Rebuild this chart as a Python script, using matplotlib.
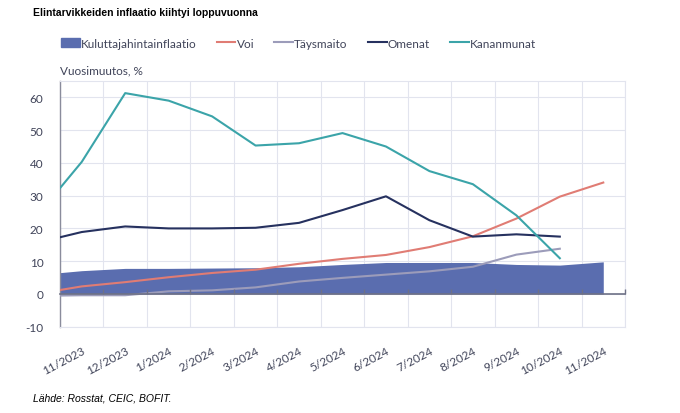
import numpy as np
import matplotlib
matplotlib.use('Agg')
import matplotlib.pyplot as plt
from matplotlib.patches import Patch
from matplotlib.lines import Line2D

plt.rcParams['axes.unicode_minus'] = False

# kuukaudet (x-akselin nimiöt)
months = ['11/2023', '12/2023', '1/2024', '2/2024', '3/2024', '4/2024', '5/2024',
          '6/2024', '7/2024', '8/2024', '9/2024', '10/2024', '11/2024']
# ensimmäinen havainto (10/2023) on puoli kuukautta ennen 11/2023-nimiötä
first_offset = -0.5

cpi = [6.5, 7.1, 7.8, 7.8, 7.9, 8.0, 8.3, 9.0, 9.6, 9.6, 9.6, 9.0, 8.8, 9.8]
voi = [1.2, 2.3, 3.6, 5.1, 6.4, 7.4, 9.2, 10.7, 11.9, 14.3, 17.6, 23.0, 29.7, 34.0]
taysmaito = [-0.5, -0.4, -0.4, 0.8, 1.1, 2.0, 3.8, 4.9, 5.9, 6.9, 8.3, 12.0, 13.8]
omenat = [17.3, 18.9, 20.6, 20.0, 20.0, 20.2, 21.7, 25.6, 29.8, 22.5, 17.5, 18.2, 17.5]
kananmunat = [32.3, 40.3, 61.3, 59.0, 54.2, 45.3, 46.0, 49.1, 45.0, 37.5, 33.5, 24.0, 10.9]

c_cpi = '#5A6DAF'
c_voi = '#E07C74'
c_maito = '#9C9CBA'
c_omenat = '#26315F'
c_kana = '#3BA4A9'
txt = '#404459'
grid_c = '#E2E4EE'
fs = 8.5

def xs(vals):
    return np.concatenate([[first_offset], np.arange(len(vals) - 1)])

fig = plt.figure(figsize=(6.8, 4.14), dpi=100)
ax = fig.add_axes([60/680, 1 - 327.7/414, 565/680, (327.7 - 82)/414])

ax.fill_between(xs(cpi), 0, cpi, color=c_cpi, lw=0, zorder=2)
ax.plot(xs(voi), voi, color=c_voi, lw=1.5, zorder=3)
ax.plot(xs(taysmaito), taysmaito, color=c_maito, lw=1.5, zorder=3)
ax.plot(xs(omenat), omenat, color=c_omenat, lw=1.5, zorder=3)
ax.plot(xs(kananmunat), kananmunat, color=c_kana, lw=1.5, zorder=3)

ax.set_xlim(-0.5, len(months) - 0.5)
ax.set_ylim(-10, 65)
ax.set_yticks(range(-10, 61, 10))
ax.set_xticks(np.arange(len(months)))
ax.set_xticklabels(months, rotation=28, ha='right', rotation_mode='anchor',
                   family='Lato', fontsize=fs, color=txt)
ax.set_xticks(np.arange(-0.5, len(months)), minor=True)
ax.tick_params(axis='x', which='both', length=0, pad=13)
ax.tick_params(axis='y', length=0, pad=12, labelsize=fs, labelcolor=txt)
for lab in ax.get_yticklabels():
    lab.set_family('Lato')
ax.grid(axis='x', which='minor', color=grid_c, lw=0.8)
ax.grid(axis='y', which='major', color=grid_c, lw=0.8)
ax.set_axisbelow(True)
for s in ['top', 'right', 'bottom']:
    ax.spines[s].set_color(grid_c)
    ax.spines[s].set_linewidth(0.8)
ax.spines['left'].set_color('#8A8C9C')
ax.spines['left'].set_linewidth(1.0)

# nolla-akseli väkäsineen
zero = ax.secondary_xaxis(0, transform=ax.transData)
zero.set_xticks(np.arange(0.5, len(months) + 0.5))
zero.tick_params(direction='in', length=3.5, width=1.0, color='#6E7186', labelbottom=False)
zero.spines['bottom'].set_color('#6E7186')
zero.spines['bottom'].set_linewidth(1.2)
zero.set_zorder(4)

handles = [Patch(color=c_cpi),
           Line2D([], [], color=c_voi, lw=1.5),
           Line2D([], [], color=c_maito, lw=1.5),
           Line2D([], [], color=c_omenat, lw=1.5),
           Line2D([], [], color=c_kana, lw=1.5)]
names = ['Kuluttajahintainflaatio', 'Voi', 'Täysmaito', 'Omenat', 'Kananmunat']
leg = fig.legend(handles, names, ncol=5, loc='center left', bbox_to_anchor=(50/680, 1 - 44/414),
                 frameon=False, handlelength=1.6, handleheight=0.7, handletextpad=0.1,
                 columnspacing=1.7, prop={'family': 'Lato', 'size': fs})
for t in leg.get_texts():
    t.set_color(txt)

fig.text(60/680, 1 - 71/414, 'Vuosimuutos, %', family='Lato', fontsize=fs, color=txt, va='center')
fig.text(33/680, 1 - 13.5/414, 'Elintarvikkeiden inflaatio kiihtyi loppuvuonna',
         family=['Liberation Sans Narrow', 'Liberation Sans'], fontweight='bold', fontsize=7.5,
         color='black', va='center')
fig.text(33/680, 1 - 399/414, 'Lähde: Rosstat, CEIC, BOFIT.',
         family=['Liberation Sans Narrow', 'Liberation Sans'], style='italic', fontsize=7.5,
         color='black', va='center')

fig.savefig('out.png', dpi=100)
